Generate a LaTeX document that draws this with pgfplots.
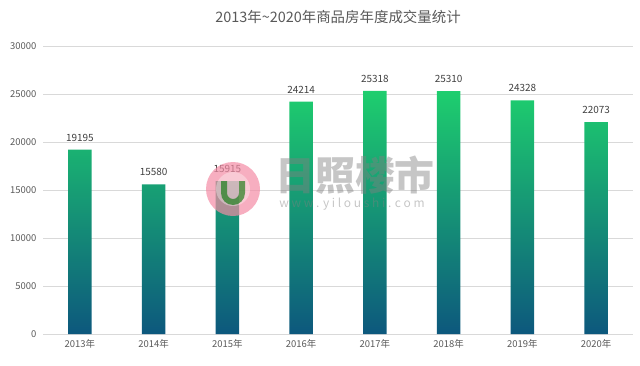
\documentclass[border=0pt]{standalone}
\usepackage{pgfplots}
\pgfplotsset{compat=1.18}
\usepackage{fontspec}
\setmainfont{Noto Sans CJK SC}
\definecolor{bartop}{RGB}{30,206,110}
\definecolor{barmid}{RGB}{22,165,122}
\definecolor{barbot}{RGB}{13,88,125}
\definecolor{gridc}{RGB}{217,217,217}
\definecolor{tickc}{RGB}{89,89,89}
\definecolor{labc}{RGB}{64,64,64}
\definecolor{titc}{RGB}{89,89,89}
\definecolor{pinkc}{RGB}{244,140,165}
\begin{document}
\begin{tikzpicture}[x=1bp,y=1bp]
\path[use as bounding box] (0,0) rectangle (640,365);
\begin{axis}[
  at={(43bp,31bp)}, anchor=south west,
  scale only axis, width=590bp, height=288bp,
  xmin=-0.5, xmax=7.5, ymin=0, ymax=30000,
  ytick={0,5000,...,30000},
  scaled y ticks=false,
  yticklabel={\pgfmathprintnumber[fixed,1000 sep={},assume math mode=true]{\tick}},
  xtick=data,
  xticklabels={2013年,2014年,2015年,2016年,2017年,2018年,2019年,2020年},
  axis x line*=bottom, axis y line*=left,
  y axis line style={draw=none},
  ymajorgrids, grid style={gridc, line width=0.6pt},
  x axis line style={gridc, line width=0.6pt, -},
  major tick length=0pt,
  tick label style={font=\fontsize{9.5}{11}\selectfont, text=tickc},
  yticklabel style={xshift=-3bp},
  xticklabel style={yshift=-2bp},
  /pgf/number format/1000 sep={},
  /pgf/number format/assume math mode=true,
  nodes near coords,
  every node near coord/.append style={font=\fontsize{10}{12}\selectfont, text=labc, yshift=5bp,
    /pgf/number format/1000 sep={}, /pgf/number format/assume math mode=true},
  title={2013年\textasciitilde2020年商品房年度成交量统计},
  title style={font=\fontsize{14.5}{16}\selectfont, text=titc, at={(0.5,1)}, yshift=13bp},
  clip=false,
]
\addplot[ybar, bar width=23.5bp, draw=none, top color=bartop, middle color=barmid, bottom color=barbot] coordinates {
(0,19195) (1,15580) (2,15915) (3,24214) (4,25318) (5,25310) (6,24328) (7,22073)};
\end{axis}
\fill[pinkc, opacity=0.7] (233,176) circle (27);
\fill[white, opacity=0.35] (233,176) circle (17);
\fill[green!45!black, opacity=0.6] (221,184) -- (221,172) arc (180:360:12) -- (245,184) -- (239,184) -- (239,172) arc (360:180:6) -- (227,184) -- cycle;
\node[text=gray, opacity=0.45, font=\bfseries\itshape\fontsize{40}{42}\selectfont] at (355,190) {日照楼市};
\node[text=gray, opacity=0.45, font=\itshape\fontsize{12}{13}\selectfont] at (352,161) {w w w . y i l o u s h i . c o m};
\end{tikzpicture}
\end{document}
